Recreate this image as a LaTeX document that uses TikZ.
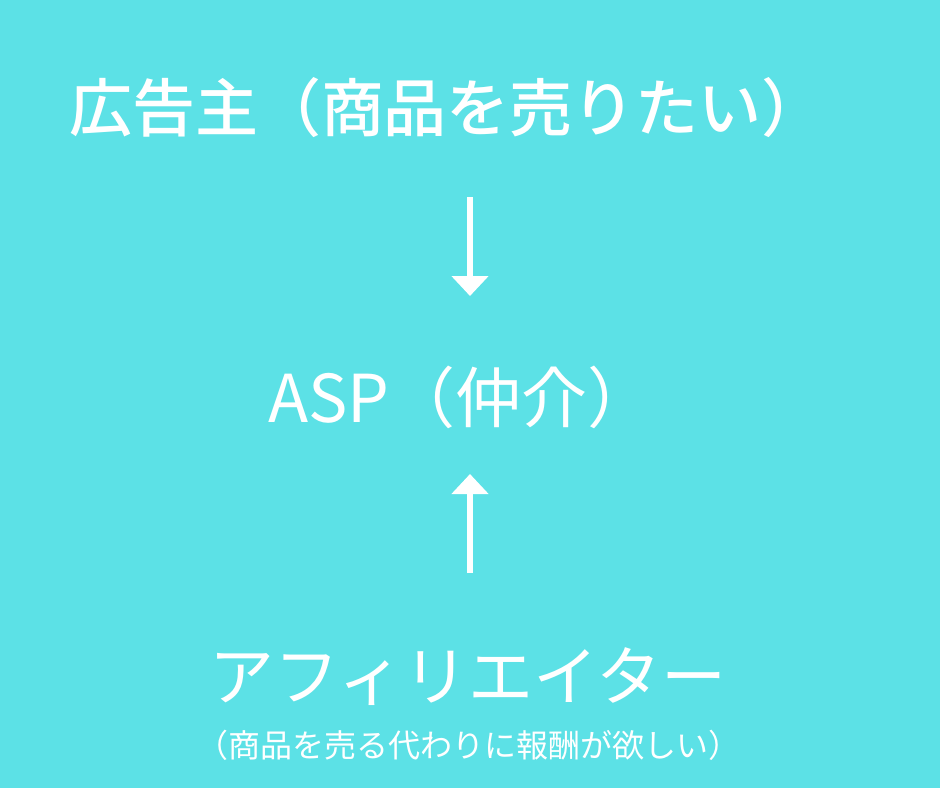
\documentclass[tikz,border=0pt]{standalone}
\usepackage{fontspec}
\newfontfamily\jpfont{Noto Sans CJK JP}
\newfontfamily\jpbold{Noto Sans CJK JP Medium}
\usetikzlibrary{arrows.meta,positioning}
\definecolor{bgcyan}{HTML}{5CE1E6}
\tikzset{
  label/.style={text=white, inner sep=0pt},
  flow/.style={white, line width=6.5pt, -{Triangle[length=20pt,width=36pt]}}
}
\begin{document}
\begin{tikzpicture}[x=1pt,y=-1pt]
  \fill[bgcyan] (0,0) rectangle (940,788);
  \useasboundingbox (0,0) rectangle (940,788);
  \node[label, font=\jpbold\fontsize{63}{65}\selectfont] (adv) at (447,108) {広告主（商品を売りたい）};
  \node[label, font=\jpfont\fontsize{66}{68}\selectfont] (asp) at (461,397) {ASP（仲介）};
  \node[label, font=\jpfont\fontsize{65}{67}\selectfont] (aff) at (468,677) {アフィリエイター};
  \node[label, font=\jpfont\fontsize{32}{34}\selectfont] (note) at (468,745) {（商品を売る代わりに報酬が欲しい）};
  \coordinate (d1) at (470,197);
  \coordinate (d2) at (470,296);
  \coordinate (u1) at (470,573);
  \coordinate (u2) at (470,474);
  \draw[flow] (d1) -- (d2);
  \draw[flow] (u1) -- (u2);
\end{tikzpicture}
\end{document}
